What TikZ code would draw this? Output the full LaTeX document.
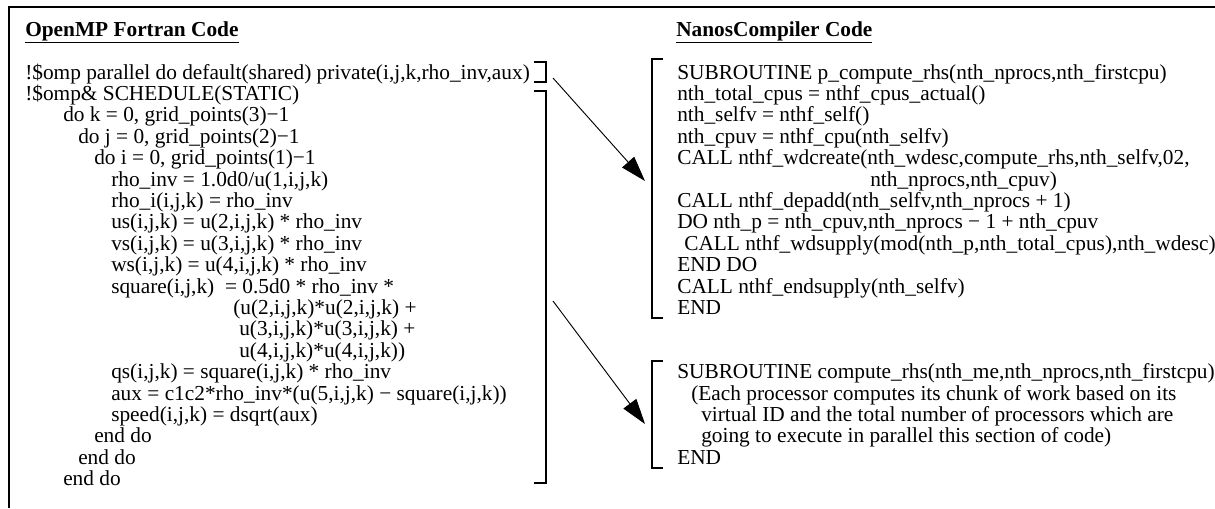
\documentclass[tikz,border=0pt]{standalone}
\usepackage{fontspec}
\setmainfont{Liberation Serif}
\usetikzlibrary{arrows.meta}
\begin{document}
\begin{tikzpicture}[x=0.75pt,y=-0.75pt,
  code/.style={anchor=base west,inner sep=0pt,font=\fontsize{16}{16}\selectfont},
  ttl/.style={anchor=base west,inner sep=0pt,font=\fontsize{16}{16}\selectfont\bfseries},
  frame/.style={line width=2pt},
  brk/.style={line width=0.9pt},
  arr/.style={line width=0.7pt,-{Triangle[length=19pt,width=12pt]}}]
\useasboundingbox (0,0) rectangle (1215,508);
\draw[frame] (9,508) -- (9,7) -- (1215,7);
% titles
\node[ttl] (t1) at (25,36) {\underline{OpenMP Fortran Code}};
\node[ttl] (t2) at (676,36) {\underline{NanosCompiler Code}};
% left code
\node[code] (l0) at (25,79) {!\$omp parallel do default(shared) private(i,j,k,rho\_inv,aux)};
\node[code] (l1) at (25,100.4) {!\$omp\& SCHEDULE(STATIC)};
\node[code] (l2) at (63,121.8) {do k = 0, grid\_points(3)−1};
\node[code] (l3) at (78,143.2) {do j = 0, grid\_points(2)−1};
\node[code] (l4) at (94,164.6) {do i = 0, grid\_points(1)−1};
\node[code] (l5) at (111,186) {rho\_inv = 1.0d0/u(1,i,j,k)};
\node[code] (l6) at (111,207.4) {rho\_i(i,j,k) = rho\_inv};
\node[code] (l7) at (111,228.8) {us(i,j,k) = u(2,i,j,k) * rho\_inv};
\node[code] (l8) at (111,250.2) {vs(i,j,k) = u(3,i,j,k) * rho\_inv};
\node[code] (l9) at (111,271.6) {ws(i,j,k) = u(4,i,j,k) * rho\_inv};
\node[code] (l10) at (111,293) {square(i,j,k)\ \ = 0.5d0 * rho\_inv *};
\node[code] (l11) at (233,314.4) {(u(2,i,j,k)*u(2,i,j,k) +};
\node[code] (l12) at (239,335.8) {u(3,i,j,k)*u(3,i,j,k) +};
\node[code] (l13) at (239,357.2) {u(4,i,j,k)*u(4,i,j,k))};
\node[code] (l14) at (111,378.6) {qs(i,j,k) = square(i,j,k) * rho\_inv};
\node[code] (l15) at (111,400) {aux = c1c2*rho\_inv*(u(5,i,j,k) − square(i,j,k))};
\node[code] (l16) at (111,421.4) {speed(i,j,k) = dsqrt(aux)};
\node[code] (l17) at (94,442.8) {end do};
\node[code] (l18) at (78,464.2) {end do};
\node[code] (l19) at (63,485.6) {end do};
% right code block 1
\node[code] (r0) at (677,79) {SUBROUTINE p\_compute\_rhs(nth\_nprocs,nth\_firstcpu)};
\node[code] (r1) at (677,100.4) {nth\_total\_cpus = nthf\_cpus\_actual()};
\node[code] (r2) at (677,121.8) {nth\_selfv = nthf\_self()};
\node[code] (r3) at (677,143.2) {nth\_cpuv = nthf\_cpu(nth\_selfv)};
\node[code] (r4) at (677,164.6) {CALL nthf\_wdcreate(nth\_wdesc,compute\_rhs,nth\_selfv,02,};
\node[code] (r5) at (870,186) {nth\_nprocs,nth\_cpuv)};
\node[code] (r6) at (677,207.4) {CALL nthf\_depadd(nth\_selfv,nth\_nprocs + 1)};
\node[code] (r7) at (677,228.8) {DO nth\_p = nth\_cpuv,nth\_nprocs − 1 + nth\_cpuv};
\node[code] (r8) at (684,250.2) {CALL nthf\_wdsupply(mod(nth\_p,nth\_total\_cpus),nth\_wdesc)};
\node[code] (r9) at (677,271.6) {END DO};
\node[code] (r10) at (677,293) {CALL nthf\_endsupply(nth\_selfv)};
\node[code] (r11) at (677,314.4) {END};
% right code block 2
\node[code] (s0) at (677,378.6) {SUBROUTINE compute\_rhs(nth\_me,nth\_nprocs,nth\_firstcpu)};
\node[code] (s1) at (691,400) {(Each processor computes its chunk of work based on its};
\node[code] (s2) at (701,421.4) {virtual ID and the total number of processors which are};
\node[code] (s3) at (701,442.8) {going to execute in parallel this section of code)};
\node[code] (s4) at (677,464.2) {END};
% brackets
\draw[brk] (534,62) -- (546,62) -- (546,82) -- (534,82);
\draw[brk] (534,91) -- (546,91) -- (546,483) -- (534,483);
\draw[brk] (663,59) -- (652,59) -- (652,318) -- (663,318);
\draw[brk] (663,361) -- (652,361) -- (652,468) -- (663,468);
% arrows
\coordinate (a1s) at (553,78);
\coordinate (a1e) at (645,181);
\coordinate (a2s) at (553,301);
\coordinate (a2e) at (645,424);
\draw[arr] (a1s) -- (a1e);
\draw[arr] (a2s) -- (a2e);
\end{tikzpicture}
\end{document}
